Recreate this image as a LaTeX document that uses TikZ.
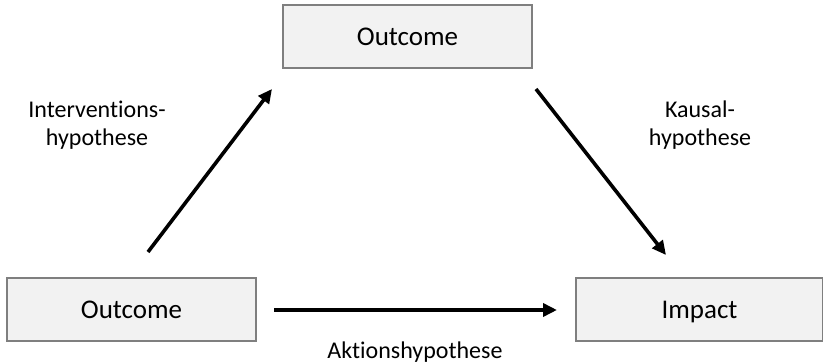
\documentclass[tikz,border=0pt]{standalone}
\usepackage{fontspec}
\setmainfont{Carlito}[Ligatures=NoCommon]
\usetikzlibrary{arrows.meta}
\definecolor{boxfill}{HTML}{F2F2F2}
\definecolor{boxline}{HTML}{7F7F7F}
\tikzset{
  box/.style={draw=boxline, fill=boxfill, line width=1.5pt, minimum width=249pt, minimum height=63pt, inner sep=0pt, text height=17.4pt, text depth=0pt, font=\fontsize{27}{32}\selectfont},
  lbl/.style={align=center, inner sep=0pt, font=\fontsize{24}{28}\selectfont},
  arr/.style={line width=3.6pt, -{Triangle[length=14pt,width=13pt]}}
}
\begin{document}
\begin{tikzpicture}[x=1pt,y=-1pt]
\useasboundingbox (0,0) rectangle (823,364);
\node[box] (top) at (407.5,36.5) {Outcome};
\node[box] (left) at (131.5,309.5) {Outcome};
\node[box, minimum width=247pt] (imp) at (699.5,309.5) {Impact};
\node[lbl] (lint) at (97,125) {Interventions-\\hypothese};
\node[lbl] (lkau) at (700,125) {Kausal-\\hypothese};
\node[lbl, anchor=base] (lakt) at (415,358.5) {Aktionshypothese};
\coordinate (a1s) at (148,252);
\coordinate (a1e) at (272,89);
\coordinate (a2s) at (536,89);
\coordinate (a2e) at (666,255);
\coordinate (a3s) at (274,310);
\coordinate (a3e) at (557,310);
\draw[arr] (a1s) -- (a1e);
\draw[arr] (a2s) -- (a2e);
\draw[arr] (a3s) -- (a3e);
\end{tikzpicture}
\end{document}
